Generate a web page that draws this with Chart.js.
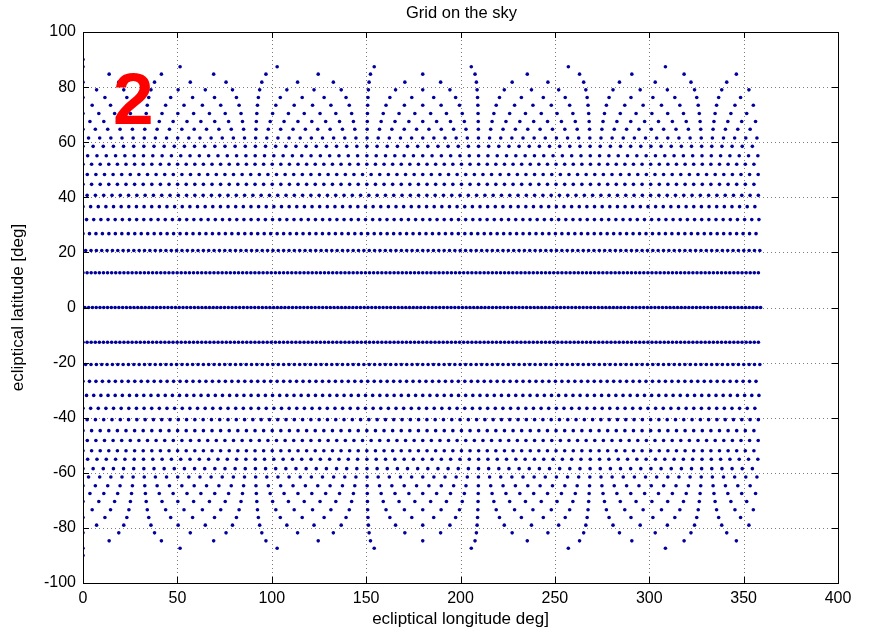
<!DOCTYPE html>
<html>
<head>
<meta charset="utf-8">
<script src="https://cdn.jsdelivr.net/npm/chart.js@4.4.1/dist/chart.umd.min.js"></script>
<style>
  html, body { margin: 0; padding: 0; background: #ffffff; }
  #wrap { width: 880px; height: 633px; position: relative; }
</style>
</head>
<body>
<div id="wrap"><canvas id="c" width="880" height="633"></canvas></div>
<script>
// ---- data ----
const titleText = "Grid on the sky";
const xLabelText = "ecliptical longitude deg]";
const yLabelText = "ecliptical latitude [deg]";
const annotationText = "2";
const xTicks = [0, 50, 100, 150, 200, 250, 300, 350, 400];
const yTicks = [-100, -80, -60, -40, -20, 0, 20, 40, 60, 80, 100];

// latitude of each ring of grid points (deg)
const ringLat = [90, 87.4, 84.7, 81.8, 79.0, 76.2, 73.4, 70.4, 67.5, 64.7, 61.5, 58.5, 55.1,
                 52.0, 48.3, 44.7, 40.7, 36.6, 31.9, 26.8, 20.7, 12.6, 0,
                 -12.6, -20.7, -26.8, -31.9, -36.6, -40.7, -44.7, -48.3, -52.0,
                 -55.1, -58.5, -61.5, -64.7, -67.5, -70.4, -73.4, -76.2, -79.0, -81.8, -84.7, -87.4, -90];
// number of points on each ring (evenly spread in longitude)
const ringCount = [1, 7, 13, 19, 25, 31, 37, 43, 49, 55, 61, 67, 73,
                   79, 79, 79, 82, 89, 95, 105, 127, 166, 180,
                   166, 127, 105, 95, 89, 82, 79, 79, 79,
                   73, 67, 61, 55, 49, 43, 37, 31, 25, 19, 13, 7, 1];
// start of each ring, as a fraction of its point spacing
const ringOffset = [0, 0, .5, 0, .5, 0, .5, 0, .5, 0, .5, 0, .5,
                    0, .5, 0, .5, 0, .5, 0, .5, 0, .5,
                    0, .5, 0, .5, 0, .5, 0, .5, 0,
                    .5, 0, .5, 0, .5, 0, .5, 0, .5, 0, .5, 0, 0];

// ---- build the point table ----
const points = [];
ringLat.forEach((lat, i) => {
  const n = ringCount[i];
  for (let j = 0; j < n; j++) {
    points.push({ x: (ringOffset[i] + j) * 360 / n, y: lat });
  }
});

const FONT = "'Liberation Sans', Arial, Helvetica, sans-serif";

const decor = {
  id: 'decor',
  beforeDatasetsDraw(chart) {
    const { ctx, chartArea: a, scales: { x, y } } = chart;
    ctx.save();
    ctx.strokeStyle = 'rgba(70,70,70,0.7)';
    ctx.lineWidth = 1;
    ctx.setLineDash([1, 3]);
    xTicks.forEach(v => {
      if (v <= x.min || v >= x.max) return;
      const px = Math.round(x.getPixelForValue(v)) + 0.5;
      ctx.beginPath(); ctx.moveTo(px, a.top); ctx.lineTo(px, a.bottom); ctx.stroke();
    });
    yTicks.forEach(v => {
      if (v <= y.min || v >= y.max) return;
      const py = Math.round(y.getPixelForValue(v)) + 0.5;
      ctx.beginPath(); ctx.moveTo(a.left, py); ctx.lineTo(a.right, py); ctx.stroke();
    });
    ctx.restore();
  },
  afterDraw(chart) {
    const { ctx, chartArea: a, scales: { x, y } } = chart;
    ctx.save();
    ctx.strokeStyle = '#000';
    ctx.lineWidth = 1;
    ctx.setLineDash([]);
    ctx.strokeRect(Math.round(a.left) + 0.5, Math.round(a.top) + 0.5,
                   Math.round(a.right - a.left), Math.round(a.bottom - a.top));
    const tl = 6;
    xTicks.forEach(v => {
      const px = Math.round(x.getPixelForValue(v)) + 0.5;
      ctx.beginPath();
      ctx.moveTo(px, a.bottom); ctx.lineTo(px, a.bottom - tl);
      ctx.moveTo(px, a.top); ctx.lineTo(px, a.top + tl);
      ctx.stroke();
    });
    yTicks.forEach(v => {
      const py = Math.round(y.getPixelForValue(v)) + 0.5;
      ctx.beginPath();
      ctx.moveTo(a.left, py); ctx.lineTo(a.left + tl, py);
      ctx.moveTo(a.right, py); ctx.lineTo(a.right - tl, py);
      ctx.stroke();
    });
    ctx.fillStyle = '#000';
    ctx.textAlign = 'center';
    ctx.textBaseline = 'middle';
    ctx.font = '16.5px ' + FONT;
    ctx.fillText(titleText, (a.left + a.right) / 2 + 1, 13);
    ctx.font = '17px ' + FONT;
    ctx.fillText(xLabelText, (a.left + a.right) / 2, 619);
    ctx.save();
    ctx.translate(18, (a.top + a.bottom) / 2);
    ctx.rotate(-Math.PI / 2);
    ctx.fillText(yLabelText, 0, 0);
    ctx.restore();
    ctx.fillStyle = '#ff0000';
    ctx.textAlign = 'left';
    ctx.textBaseline = 'alphabetic';
    ctx.font = 'bold 73px ' + FONT;
    ctx.fillText(annotationText, x.getPixelForValue(15.9), y.getPixelForValue(66.7));
    ctx.restore();
  }
};

new Chart(document.getElementById('c'), {
  type: 'scatter',
  data: {
    datasets: [{
      data: points,
      pointRadius: 1.8,
      pointHoverRadius: 1.8,
      pointBorderWidth: 0,
      pointBackgroundColor: '#00009c',
      pointBorderColor: '#00009c',
      showLine: false
    }]
  },
  options: {
    responsive: false,
    animation: false,
    events: [],
    layout: { padding: { top: 32, right: 42, left: 0, bottom: 0 } },
    plugins: { legend: { display: false }, tooltip: { enabled: false }, title: { display: false } },
    scales: {
      x: {
        type: 'linear', min: 0, max: 400,
        afterFit(s) { s.height = 50; },
        afterBuildTicks(s) { s.ticks = xTicks.map(v => ({ value: v })); },
        grid: { display: false, drawTicks: false },
        border: { display: false },
        ticks: { color: '#000', padding: 6, maxRotation: 0, autoSkip: false, font: { family: FONT, size: 16 } }
      },
      y: {
        type: 'linear', min: -100, max: 100,
        afterFit(s) { s.width = 83; },
        afterBuildTicks(s) { s.ticks = yTicks.map(v => ({ value: v })); },
        grid: { display: false, drawTicks: false },
        border: { display: false },
        ticks: { color: '#000', padding: 7, autoSkip: false, font: { family: FONT, size: 16 } }
      }
    }
  },
  plugins: [decor]
});
</script>
</body>
</html>
